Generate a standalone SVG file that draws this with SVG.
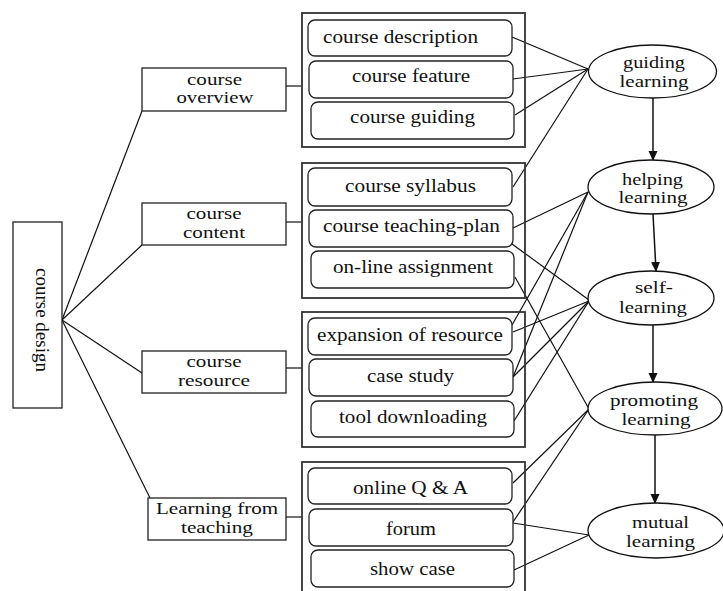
<svg xmlns="http://www.w3.org/2000/svg" width="723" height="591" viewBox="0 0 723 591">
<style>
text{font-family:"Liberation Serif","Times New Roman",serif;font-size:18px;fill:#111;text-anchor:middle}
text.two{font-size:16px}
.box{fill:#fff;stroke:#222;stroke-width:1.3}
.cont{fill:none;stroke:#333;stroke-width:1.8}
.item{fill:#fff;stroke:#222;stroke-width:1.3}
.ell{fill:#fff;stroke:#111;stroke-width:1.3}
#connectors line{stroke:#111;stroke-width:1.2}
#arrows line{stroke:#111;stroke-width:1.5}
</style>
<defs>
<marker id="ah" markerWidth="10" markerHeight="10" refX="9" refY="5" orient="auto" markerUnits="userSpaceOnUse">
<path d="M0,0.5 L10,5 L0,9.5 Z" fill="#111"/>
</marker>
</defs>
<rect width="723" height="591" fill="#fff"/>

<g id="connectors">
<line x1="62" y1="320" x2="142" y2="111"/>
<line x1="62" y1="320" x2="142" y2="245"/>
<line x1="62" y1="320" x2="142" y2="373"/>
<line x1="62" y1="320" x2="150" y2="498"/>
<line x1="286" y1="86" x2="302" y2="86"/>
<line x1="286" y1="222" x2="302" y2="222"/>
<line x1="286" y1="368" x2="302" y2="368"/>
<line x1="286" y1="517" x2="302" y2="517"/>
<line x1="512" y1="37" x2="588" y2="69"/>
<line x1="513" y1="79" x2="588" y2="69"/>
<line x1="515" y1="115" x2="588" y2="69"/>
<line x1="513" y1="187" x2="588" y2="69"/>
<line x1="513" y1="228" x2="588" y2="192"/>
<line x1="512" y1="244" x2="589" y2="300"/>
<line x1="515" y1="277" x2="589" y2="409"/>
<line x1="512" y1="325" x2="588" y2="192"/>
<line x1="513" y1="332" x2="589" y2="301"/>
<line x1="513" y1="377" x2="588" y2="192"/>
<line x1="513" y1="377" x2="589" y2="301"/>
<line x1="514" y1="421" x2="589" y2="301"/>
<line x1="513" y1="483" x2="589" y2="409"/>
<line x1="513" y1="522" x2="589" y2="409"/>
<line x1="513" y1="523" x2="589" y2="535"/>
<line x1="514" y1="570" x2="589" y2="535"/>
</g>
<g id="arrows">
<line x1="653" y1="98" x2="653" y2="160" marker-end="url(#ah)"/>
<line x1="653" y1="214" x2="656" y2="271" marker-end="url(#ah)"/>
<line x1="653" y1="325" x2="653" y2="382" marker-end="url(#ah)"/>
<line x1="655" y1="435" x2="655" y2="503" marker-end="url(#ah)"/>
</g>

<g id="course-design">
<rect class="box" x="13" y="222" width="49" height="186"/>
<text transform="translate(36,320) rotate(90)" textLength="104" lengthAdjust="spacingAndGlyphs">course design</text>
</g>

<g id="course-overview">
<rect class="box" x="142" y="68" width="144" height="43"/>
<text class="two" x="214.5" y="84.5" textLength="55" lengthAdjust="spacingAndGlyphs">course</text>
<text class="two" x="215" y="103" textLength="77" lengthAdjust="spacingAndGlyphs">overview</text>
</g>
<g id="course-content">
<rect class="box" x="142" y="203" width="144" height="42"/>
<text class="two" x="214" y="219" textLength="55" lengthAdjust="spacingAndGlyphs">course</text>
<text class="two" x="214" y="237.5" textLength="62" lengthAdjust="spacingAndGlyphs">content</text>
</g>
<g id="course-resource">
<rect class="box" x="142" y="351" width="144" height="42"/>
<text class="two" x="214" y="367" textLength="55" lengthAdjust="spacingAndGlyphs">course</text>
<text class="two" x="214" y="385.5" textLength="72" lengthAdjust="spacingAndGlyphs">resource</text>
</g>
<g id="learning-from-teaching">
<rect class="box" x="148" y="498" width="138" height="42"/>
<text class="two" x="217" y="513.5" textLength="122" lengthAdjust="spacingAndGlyphs">Learning from</text>
<text class="two" x="217" y="533" textLength="72" lengthAdjust="spacingAndGlyphs">teaching</text>
</g>

<g id="group-overview">
<rect class="cont" x="302" y="13" width="223" height="134"/>
<g id="course-description"><rect class="item" x="308" y="20" width="204" height="36" rx="7"/><text x="400.5" y="43" textLength="155" lengthAdjust="spacingAndGlyphs">course description</text></g>
<g id="course-feature"><rect class="item" x="309" y="61" width="204" height="37" rx="7"/><text x="411" y="82" textLength="118" lengthAdjust="spacingAndGlyphs">course feature</text></g>
<g id="course-guiding"><rect class="item" x="311" y="102" width="203" height="37" rx="7"/><text x="412.5" y="123" textLength="125" lengthAdjust="spacingAndGlyphs">course guiding</text></g>
</g>
<g id="group-content">
<rect class="cont" x="302" y="163" width="223" height="135"/>
<g id="course-syllabus"><rect class="item" x="308" y="168" width="204" height="38" rx="7"/><text x="410.5" y="192" textLength="131" lengthAdjust="spacingAndGlyphs">course syllabus</text></g>
<g id="course-teaching-plan"><rect class="item" x="309" y="210" width="204" height="37" rx="7"/><text x="411.5" y="231.5" textLength="177" lengthAdjust="spacingAndGlyphs">course teaching-plan</text></g>
<g id="online-assignment"><rect class="item" x="311" y="251" width="203" height="37" rx="7"/><text x="413" y="273" textLength="160" lengthAdjust="spacingAndGlyphs">on-line assignment</text></g>
</g>
<g id="group-resource">
<rect class="cont" x="302" y="312" width="223" height="135"/>
<g id="expansion-of-resource"><rect class="item" x="308" y="318" width="204" height="37" rx="7"/><text x="410" y="340.5" textLength="186" lengthAdjust="spacingAndGlyphs">expansion of resource</text></g>
<g id="case-study"><rect class="item" x="309" y="359" width="204" height="37" rx="7"/><text x="410.5" y="381.5" textLength="87" lengthAdjust="spacingAndGlyphs">case study</text></g>
<g id="tool-downloading"><rect class="item" x="311" y="401" width="203" height="36" rx="7"/><text x="413" y="422.5" textLength="148" lengthAdjust="spacingAndGlyphs">tool downloading</text></g>
</g>
<g id="group-teaching">
<rect class="cont" x="302" y="462" width="223" height="140"/>
<g id="online-qa"><rect class="item" x="308" y="468" width="204" height="36" rx="7"/><text x="410.5" y="494" textLength="115" lengthAdjust="spacingAndGlyphs">online Q &amp; A</text></g>
<g id="forum"><rect class="item" x="309" y="509" width="204" height="37" rx="7"/><text x="411" y="535" textLength="50" lengthAdjust="spacingAndGlyphs">forum</text></g>
<g id="show-case"><rect class="item" x="311" y="550" width="203" height="37" rx="7"/><text x="412.5" y="575" textLength="85" lengthAdjust="spacingAndGlyphs">show case</text></g>
</g>

<g id="guiding-learning">
<ellipse class="ell" cx="652.5" cy="71.5" rx="64" ry="26.5"/>
<text class="two" x="654" y="67.5" textLength="62" lengthAdjust="spacingAndGlyphs">guiding</text>
<text class="two" x="654" y="87" textLength="69" lengthAdjust="spacingAndGlyphs">learning</text>
</g>
<g id="helping-learning">
<ellipse class="ell" cx="651" cy="187" rx="63" ry="27"/>
<text class="two" x="652.5" y="184.5" textLength="61" lengthAdjust="spacingAndGlyphs">helping</text>
<text class="two" x="653" y="203" textLength="69" lengthAdjust="spacingAndGlyphs">learning</text>
</g>
<g id="self-learning">
<ellipse class="ell" cx="651" cy="298" rx="63" ry="27"/>
<text class="two" x="654" y="293" textLength="38" lengthAdjust="spacingAndGlyphs">self-</text>
<text class="two" x="653" y="313" textLength="68" lengthAdjust="spacingAndGlyphs">learning</text>
</g>
<g id="promoting-learning">
<ellipse class="ell" cx="655" cy="408.5" rx="67" ry="26.5"/>
<text class="two" x="654" y="406" textLength="88" lengthAdjust="spacingAndGlyphs">promoting</text>
<text class="two" x="656" y="424.5" textLength="69" lengthAdjust="spacingAndGlyphs">learning</text>
</g>
<g id="mutual-learning">
<ellipse class="ell" cx="656" cy="530.5" rx="68" ry="27.5"/>
<text class="two" x="660.5" y="527.5" textLength="57" lengthAdjust="spacingAndGlyphs">mutual</text>
<text class="two" x="660.5" y="547" textLength="69" lengthAdjust="spacingAndGlyphs">learning</text>
</g>
</svg>
